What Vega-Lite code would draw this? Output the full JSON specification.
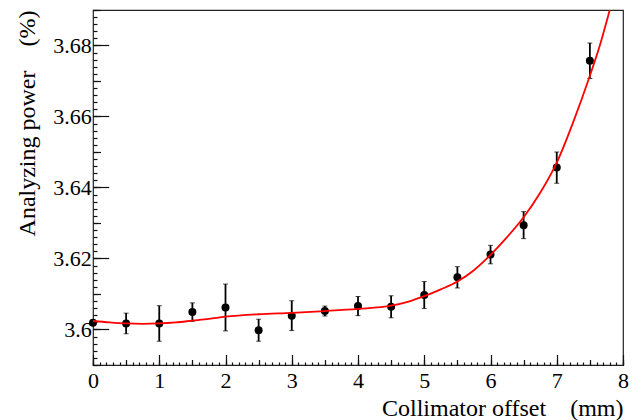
{
  "$schema": "https://vega.github.io/schema/vega-lite/v6.json",
  "autosize": "none",
  "width": 530,
  "height": 355,
  "padding": {"left": 93, "top": 10, "right": 18, "bottom": 55},
  "background": "white",
  "config": {
    "view": {"stroke": "#222", "strokeWidth": 1.2},
    "font": "Liberation Serif",
    "axis": {"domain": false, "grid": false, "tickColor": "#111", "tickWidth": 1.2, "labelColor": "#000", "titleColor": "#000", "titleFontWeight": "normal", "labelFont": "Liberation Serif"}
  },
  "datasets": {
    "fit": [
      {"x": 0, "y": 3.6024}, {"x": 0.25, "y": 3.6020}, {"x": 0.5, "y": 3.6017}, {"x": 0.75, "y": 3.6016},
      {"x": 1, "y": 3.6017}, {"x": 1.25, "y": 3.6020}, {"x": 1.5, "y": 3.6025}, {"x": 1.75, "y": 3.6030},
      {"x": 2, "y": 3.6036}, {"x": 2.5, "y": 3.6043}, {"x": 3, "y": 3.6047}, {"x": 3.5, "y": 3.6052},
      {"x": 4, "y": 3.6058}, {"x": 4.5, "y": 3.6067}, {"x": 4.75, "y": 3.6078}, {"x": 5, "y": 3.6094},
      {"x": 5.25, "y": 3.6113}, {"x": 5.5, "y": 3.6135}, {"x": 5.75, "y": 3.6167}, {"x": 6, "y": 3.6210},
      {"x": 6.25, "y": 3.6260}, {"x": 6.5, "y": 3.6316}, {"x": 6.75, "y": 3.6385}, {"x": 7, "y": 3.6470},
      {"x": 7.25, "y": 3.6585}, {"x": 7.5, "y": 3.6715}, {"x": 7.65, "y": 3.6800}, {"x": 7.8, "y": 3.6900},
      {"x": 7.85, "y": 3.6935}
    ],
    "pts": [
      {"x": 0, "y": 3.6019, "err": 0.0004},
      {"x": 0.5, "y": 3.6017, "err": 0.0029},
      {"x": 1, "y": 3.6017, "err": 0.0050},
      {"x": 1.5, "y": 3.6049, "err": 0.0026},
      {"x": 2, "y": 3.6062, "err": 0.0066},
      {"x": 2.5, "y": 3.5998, "err": 0.0031},
      {"x": 3, "y": 3.6039, "err": 0.0042},
      {"x": 3.5, "y": 3.6052, "err": 0.0014},
      {"x": 4, "y": 3.6066, "err": 0.0027},
      {"x": 4.5, "y": 3.6064, "err": 0.0031},
      {"x": 5, "y": 3.6097, "err": 0.0038},
      {"x": 5.5, "y": 3.6147, "err": 0.0030},
      {"x": 6, "y": 3.6211, "err": 0.0026},
      {"x": 6.5, "y": 3.6294, "err": 0.0038},
      {"x": 7, "y": 3.6456, "err": 0.0044},
      {"x": 7.5, "y": 3.6757, "err": 0.0050}
    ]
  },
  "layer": [
    {
      "data": {"name": "pts"},
      "mark": {"type": "errorbar", "ticks": {"size": 5, "color": "#000", "strokeWidth": 1.5}, "rule": {"color": "#000", "strokeWidth": 1.8}, "clip": true},
      "encoding": {
        "x": {"field": "x", "type": "quantitative", "scale": {"domain": [0, 8], "nice": false, "zero": false},
              "axis": {"orient": "bottom", "title": null, "labels": false, "tickCount": 80, "tickSize": -3}},
        "y": {"field": "y", "type": "quantitative", "scale": {"domain": [3.59, 3.69], "nice": false, "zero": false},
              "axis": {"orient": "left", "title": null, "labels": false, "tickCount": 50, "tickSize": -4}},
        "yError": {"field": "err"}
      }
    },
    {
      "data": {"name": "pts"},
      "mark": {"type": "circle", "size": 64, "color": "#000", "opacity": 1},
      "encoding": {
        "x": {"field": "x", "type": "quantitative", "scale": {"domain": [0, 8], "nice": false, "zero": false},
              "axis": {"orient": "bottom", "title": null, "labels": false, "tickCount": 16, "tickSize": -5.5}},
        "y": {"field": "y", "type": "quantitative", "scale": {"domain": [3.59, 3.69], "nice": false, "zero": false},
              "axis": {"orient": "left", "title": null, "labels": false, "tickCount": 10, "tickSize": -7.5}}
      }
    },
    {
      "data": {"name": "fit"},
      "mark": {"type": "line", "color": "#ff0000", "strokeWidth": 1.8, "interpolate": "monotone", "clip": true},
      "encoding": {
        "x": {"field": "x", "type": "quantitative", "scale": {"domain": [0, 8], "nice": false, "zero": false},
              "axis": {"orient": "bottom", "title": "Collimator offset\u00a0\u00a0\u00a0\u00a0(mm)", "values": [0, 1, 2, 3, 4, 5, 6, 7, 8],
                       "tickSize": -10.5, "labelFont": "Liberation Serif", "labelFontSize": 22, "labelPadding": 16, "labelFlush": false,
                       "encode": {"labels": {"update": {"font": {"value": "Liberation Serif"}}}},
                       "titleFont": "Liberation Serif", "titleFontSize": 24, "titleAnchor": "end", "titleAlign": "right", "titleX": 530, "titleY": 50, "titleBaseline": "alphabetic"}},
        "y": {"field": "y", "type": "quantitative", "scale": {"domain": [3.59, 3.69], "nice": false, "zero": false},
              "axis": {"orient": "left", "title": "Analyzing power\u00a0\u00a0\u00a0\u00a0(%)", "values": [3.6, 3.62, 3.64, 3.66, 3.68], "format": ".2~f",
                       "tickSize": -15.7, "labelFont": "Liberation Serif", "labelFontSize": 22, "labelPadding": 17.5,
                       "encode": {"labels": {"update": {"font": {"value": "Liberation Serif"}}}},
                       "titleFont": "Liberation Serif", "titleFontSize": 24, "titleAngle": -90, "titleAnchor": "end", "titleAlign": "right", "titleX": -66, "titleY": 0, "titleBaseline": "middle"}}
      }
    }
  ],
  "resolve": {"axis": {"x": "independent", "y": "independent"}}
}
